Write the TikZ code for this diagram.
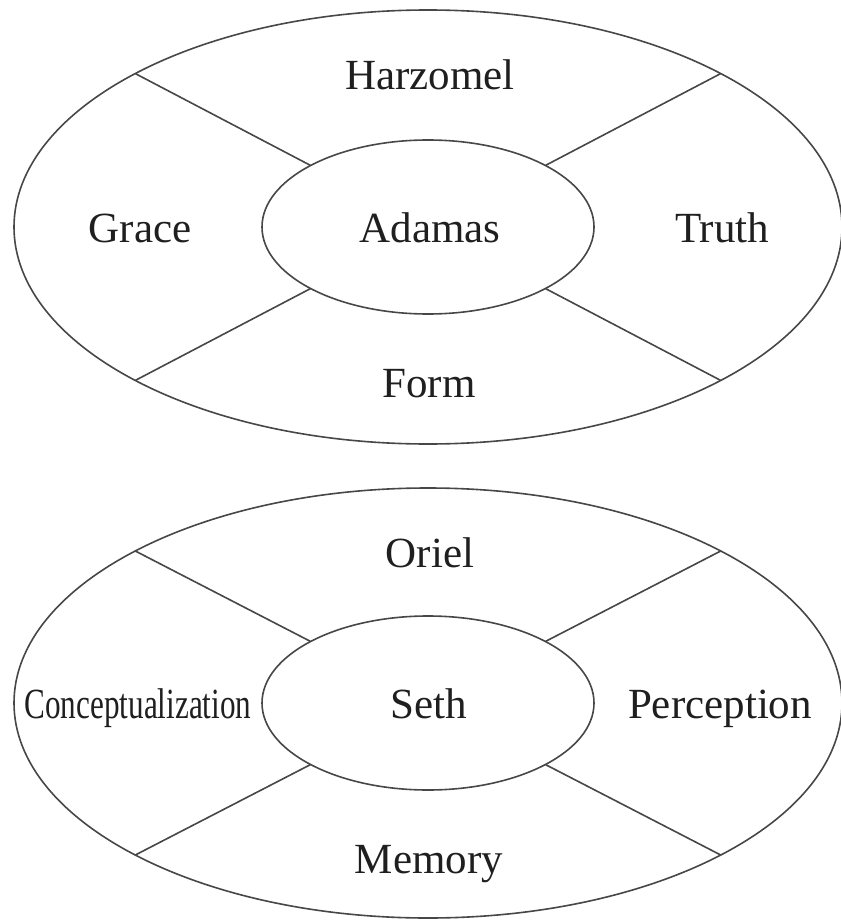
\documentclass[tikz,border=0pt]{standalone}
\usepackage{fontspec}
\setmainfont{Liberation Serif}
\usetikzlibrary{calc,shapes.geometric}
\begin{document}
\begin{tikzpicture}[x=1pt,y=-1pt,
  ring/.style={draw=black!72,line width=1.6pt,ellipse,inner sep=0pt,fill=none},
  spoke/.style={draw=black!72,line width=1.6pt},
  lbl/.style={anchor=base,inner sep=0pt,text=black!88,font=\fontsize{43}{50}\selectfont}]
\useasboundingbox (0,0) rectangle (840,920);
% top diagram
\node[ring,minimum width=828pt,minimum height=434pt] (T) at (428,227) {};
\node[ring,minimum width=332pt,minimum height=174pt] (t) at (428,227) {};
\coordinate (Tul) at ($(T)+(225:414 and 217)$);
\coordinate (Tur) at ($(T)+(315:414 and 217)$);
\coordinate (Tll) at ($(T)+(135:414 and 217)$);
\coordinate (Tlr) at ($(T)+(45:414 and 217)$);
\coordinate (tul) at ($(t)+(225:166 and 87)$);
\coordinate (tur) at ($(t)+(315:166 and 87)$);
\coordinate (tll) at ($(t)+(135:166 and 87)$);
\coordinate (tlr) at ($(t)+(45:166 and 87)$);
\draw[spoke] (Tul) -- (tul);
\draw[spoke] (Tur) -- (tur);
\draw[spoke] (Tll) -- (tll);
\draw[spoke] (Tlr) -- (tlr);
\node[lbl] (harzomel) at (430,90) {Harzomel};
\node[lbl] (grace) at (140,242) {Grace};
\node[lbl] (adamas) at (430,242) {Adamas};
\node[lbl] (truth) at (722,242) {Truth};
\node[lbl] (form) at (429,397) {Form};
% bottom diagram
\node[ring,minimum width=828pt,minimum height=430pt] (B) at (428,703) {};
\node[ring,minimum width=332pt,minimum height=174pt] (b) at (428,703) {};
\coordinate (Bul) at ($(B)+(225:414 and 215)$);
\coordinate (Bur) at ($(B)+(315:414 and 215)$);
\coordinate (Bll) at ($(B)+(135:414 and 215)$);
\coordinate (Blr) at ($(B)+(45:414 and 215)$);
\coordinate (bul) at ($(b)+(225:166 and 87)$);
\coordinate (bur) at ($(b)+(315:166 and 87)$);
\coordinate (bll) at ($(b)+(135:166 and 87)$);
\coordinate (blr) at ($(b)+(45:166 and 87)$);
\draw[spoke] (Bul) -- (bul);
\draw[spoke] (Bur) -- (bur);
\draw[spoke] (Bll) -- (bll);
\draw[spoke] (Blr) -- (blr);
\node[lbl] (oriel) at (430,567) {Oriel};
\node[lbl] (concept) at (138,718) {\scalebox{0.725}[1]{Conceptualization}};
\node[lbl] (seth) at (429,718) {Seth};
\node[lbl] (perception) at (720,718) {Perception};
\node[lbl] (memory) at (429,873) {Memory};
\end{tikzpicture}
\end{document}
